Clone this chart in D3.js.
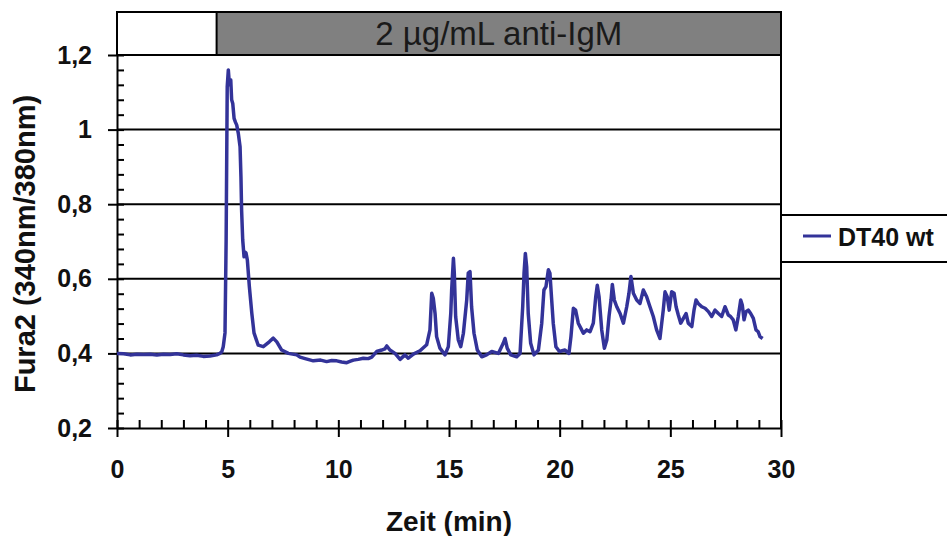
<!DOCTYPE html>
<html>
<head>
<meta charset="utf-8">
<script src="https://cdn.jsdelivr.net/npm/d3@7"></script>
<style>
  body { margin: 0; background: #fff; }
  svg { display: block; font-family: "Liberation Sans", Arial, sans-serif; }
  .axis path, .axis line { stroke: #000; stroke-width: 2; }
  .axis text { font-size: 25px; font-weight: bold; fill: #111; }
</style>
</head>
<body>
<script>
// Fura2 ratio trace (time in min, ratio 340/380)
const timeMin = [
  0, 0.3, 0.6, 0.9, 1.2, 1.5, 1.8, 2.1, 2.4, 2.7, 3.0, 3.3, 3.6, 3.9, 4.2, 4.5, 4.65, 4.73, 4.80, 4.88,
  4.93, 4.98, 5.03, 5.08, 5.14, 5.18, 5.23, 5.29, 5.35, 5.41, 5.48, 5.56, 5.60, 5.63, 5.68, 5.74, 5.78, 5.83, 5.89, 5.98,
  6.09, 6.19, 6.38, 6.61, 6.88, 7.06, 7.22, 7.44, 7.74, 8.12, 8.27, 8.5, 8.87, 9.2, 9.47, 9.7, 9.93, 10.15, 10.38, 10.55,
  10.68, 10.9, 11.13, 11.35, 11.51, 11.73, 11.96, 12.10, 12.19, 12.33, 12.56, 12.79, 13.01, 13.16, 13.39, 13.69, 13.99, 14.14, 14.22, 14.29,
  14.37, 14.44, 14.59, 14.82, 14.97, 15.08, 15.12, 15.20, 15.24, 15.30, 15.42, 15.53, 15.65, 15.80, 15.87, 15.95, 16.02, 16.13, 16.28, 16.48,
  16.70, 16.93, 17.23, 17.45, 17.53, 17.63, 17.79, 18.06, 18.21, 18.33, 18.39, 18.45, 18.51, 18.58, 18.69, 18.84, 19.04, 19.19, 19.29, 19.38,
  19.49, 19.56, 19.64, 19.71, 19.83, 19.99, 20.24, 20.42, 20.51, 20.62, 20.72, 20.84, 20.96, 21.07, 21.22, 21.37, 21.52, 21.63, 21.70, 21.78,
  21.90, 22.02, 22.13, 22.23, 22.32, 22.38, 22.47, 22.58, 22.73, 22.88, 23.03, 23.13, 23.22, 23.33, 23.48, 23.63, 23.78, 23.93, 24.08, 24.23,
  24.38, 24.53, 24.68, 24.76, 24.86, 24.95, 25.06, 25.17, 25.26, 25.36, 25.47, 25.59, 25.71, 25.81, 25.97, 26.07, 26.16, 26.26, 26.42, 26.57,
  26.72, 26.87, 27.02, 27.17, 27.32, 27.47, 27.62, 27.72, 27.84, 27.96, 28.07, 28.18, 28.25, 28.33, 28.42, 28.52, 28.63, 28.75, 28.87, 28.97,
  29.05, 29.17
];
const fura2 = [
  0.400, 0.399, 0.396, 0.398, 0.397, 0.398, 0.396, 0.398, 0.397, 0.399, 0.396, 0.394, 0.395, 0.392, 0.393, 0.396, 0.400, 0.404, 0.418, 0.455,
  0.700, 1.115, 1.160, 1.120, 1.133, 1.080, 1.070, 1.030, 1.020, 1.012, 0.990, 0.954, 0.874, 0.784, 0.704, 0.659, 0.672, 0.669, 0.650, 0.579,
  0.508, 0.455, 0.422, 0.418, 0.431, 0.441, 0.431, 0.409, 0.400, 0.396, 0.390, 0.386, 0.380, 0.382, 0.378, 0.381, 0.380, 0.377, 0.375, 0.379,
  0.382, 0.384, 0.387, 0.386, 0.390, 0.405, 0.409, 0.412, 0.420, 0.409, 0.400, 0.384, 0.396, 0.387, 0.398, 0.407, 0.423, 0.463, 0.561, 0.548,
  0.507, 0.445, 0.414, 0.396, 0.418, 0.507, 0.570, 0.655, 0.615, 0.499, 0.436, 0.418, 0.454, 0.543, 0.615, 0.619, 0.525, 0.454, 0.409, 0.391,
  0.396, 0.405, 0.400, 0.427, 0.440, 0.414, 0.396, 0.391, 0.400, 0.525, 0.615, 0.668, 0.632, 0.507, 0.427, 0.396, 0.409, 0.481, 0.570, 0.579,
  0.624, 0.615, 0.543, 0.481, 0.418, 0.405, 0.409, 0.400, 0.445, 0.521, 0.516, 0.481, 0.467, 0.454, 0.463, 0.458, 0.481, 0.552, 0.583, 0.552,
  0.463, 0.414, 0.436, 0.499, 0.543, 0.585, 0.543, 0.525, 0.507, 0.481, 0.525, 0.561, 0.606, 0.561, 0.543, 0.534, 0.570, 0.552, 0.525, 0.499,
  0.463, 0.440, 0.516, 0.565, 0.552, 0.516, 0.565, 0.561, 0.525, 0.503, 0.481, 0.494, 0.507, 0.481, 0.472, 0.516, 0.543, 0.534, 0.525, 0.521,
  0.512, 0.499, 0.516, 0.507, 0.499, 0.525, 0.503, 0.499, 0.490, 0.463, 0.499, 0.543, 0.530, 0.490, 0.512, 0.516, 0.507, 0.494, 0.463, 0.458,
  0.445, 0.440
];

const yTicks = [0.2, 0.4, 0.6, 0.8, 1.0, 1.2];
const xTicks = [0, 5, 10, 15, 20, 25, 30];
const stimStart = 4.5;            // anti-IgM added
const stimLabel = '2 µg/mL anti-IgM';
const seriesName = 'DT40 wt';

const W = 947, H = 536;
const lineColor = '#333399';

const svg = d3.select('body').append('svg')
  .attr('width', W)
  .attr('height', H);

svg.append('rect').attr('width', W).attr('height', H).attr('fill', '#fff');

const x = d3.scaleLinear().domain([0, 30]).range([117, 781]);
const y = d3.scaleLinear().domain([0.2, 1.2]).range([428, 55]);

const fmt = d => String(+d.toFixed(1)).replace('.', ',');

// horizontal grid
svg.append('g')
  .selectAll('line')
  .data(yTicks.slice(1))
  .enter()
  .append('line')
  .attr('x1', x(0)).attr('x2', x(30))
  .attr('y1', d => y(d)).attr('y2', d => y(d))
  .attr('stroke', '#000').attr('stroke-width', 2);

// stimulus bar on top
const barTop = 12;
svg.append('rect')
  .attr('x', x(stimStart)).attr('y', barTop)
  .attr('width', x(30) - x(stimStart)).attr('height', y(1.2) - barTop)
  .attr('fill', '#808080');
svg.append('rect')
  .attr('x', x(0)).attr('y', barTop)
  .attr('width', x(30) - x(0)).attr('height', y(1.2) - barTop)
  .attr('fill', 'none').attr('stroke', '#000').attr('stroke-width', 2);
svg.append('line')
  .attr('x1', x(stimStart)).attr('x2', x(stimStart))
  .attr('y1', barTop).attr('y2', y(1.2))
  .attr('stroke', '#000').attr('stroke-width', 2);
svg.append('text')
  .attr('x', (x(stimStart) + x(30)) / 2).attr('y', 45)
  .attr('text-anchor', 'middle')
  .attr('font-size', 33)
  .attr('fill', '#1a1a1a')
  .text(stimLabel);

// right frame of plot
svg.append('line')
  .attr('x1', x(30)).attr('x2', x(30))
  .attr('y1', y(1.2)).attr('y2', y(0.2))
  .attr('stroke', '#000').attr('stroke-width', 2);

// y axis: major ticks crossing, minor ticks inside
svg.append('g')
  .attr('class', 'axis')
  .attr('transform', `translate(${x(0)},0)`)
  .call(d3.axisLeft(y).tickValues(yTicks).tickSize(9).tickSizeOuter(0).tickPadding(16).tickFormat(fmt));
svg.append('g')
  .attr('class', 'axis')
  .attr('transform', `translate(${x(0)},0)`)
  .call(d3.axisRight(y).tickValues(d3.range(0.2, 1.2001, 0.04)).tickSize(7).tickSizeOuter(0).tickFormat(''))
  .select('.domain').remove();

// x axis: major ticks crossing, minor ticks inside
svg.append('g')
  .attr('class', 'axis')
  .attr('transform', `translate(0,${y(0.2)})`)
  .call(d3.axisBottom(x).tickValues(xTicks).tickSize(9).tickSizeOuter(0).tickPadding(23).tickFormat(d3.format('d')));
svg.append('g')
  .attr('class', 'axis')
  .attr('transform', `translate(0,${y(0.2)})`)
  .call(d3.axisTop(x).tickValues(d3.range(0, 31, 1)).tickSize(8).tickSizeOuter(0).tickFormat(''))
  .select('.domain').remove();

// trace
const pts = timeMin.map((t, i) => [t, fura2[i]]);
svg.append('path')
  .datum(pts)
  .attr('fill', 'none')
  .attr('stroke', lineColor)
  .attr('stroke-width', 3.5)
  .attr('stroke-linejoin', 'round')
  .attr('d', d3.line().x(d => x(d[0])).y(d => y(d[1])));

// axis titles
svg.append('text')
  .attr('x', (x(0) + x(30)) / 2).attr('y', 531)
  .attr('text-anchor', 'middle')
  .attr('font-size', 28).attr('font-weight', 'bold').attr('fill', '#111')
  .text('Zeit (min)');
svg.append('text')
  .attr('transform', 'translate(35,244) rotate(-90)')
  .attr('text-anchor', 'middle')
  .attr('font-size', 29).attr('font-weight', 'bold').attr('fill', '#111')
  .text('Fura2 (340nm/380nm)');

// legend
const legend = svg.append('g');
legend.append('rect')
  .attr('x', 781).attr('y', 215).attr('width', 200).attr('height', 47)
  .attr('fill', '#fff').attr('stroke', '#000').attr('stroke-width', 2);
legend.append('line')
  .attr('x1', 803).attr('x2', 831).attr('y1', 236).attr('y2', 236)
  .attr('stroke', lineColor).attr('stroke-width', 3);
legend.append('text')
  .attr('x', 838).attr('y', 246)
  .attr('font-size', 25).attr('font-weight', 'bold').attr('fill', '#111')
  .text(seriesName);
</script>
</body>
</html>
